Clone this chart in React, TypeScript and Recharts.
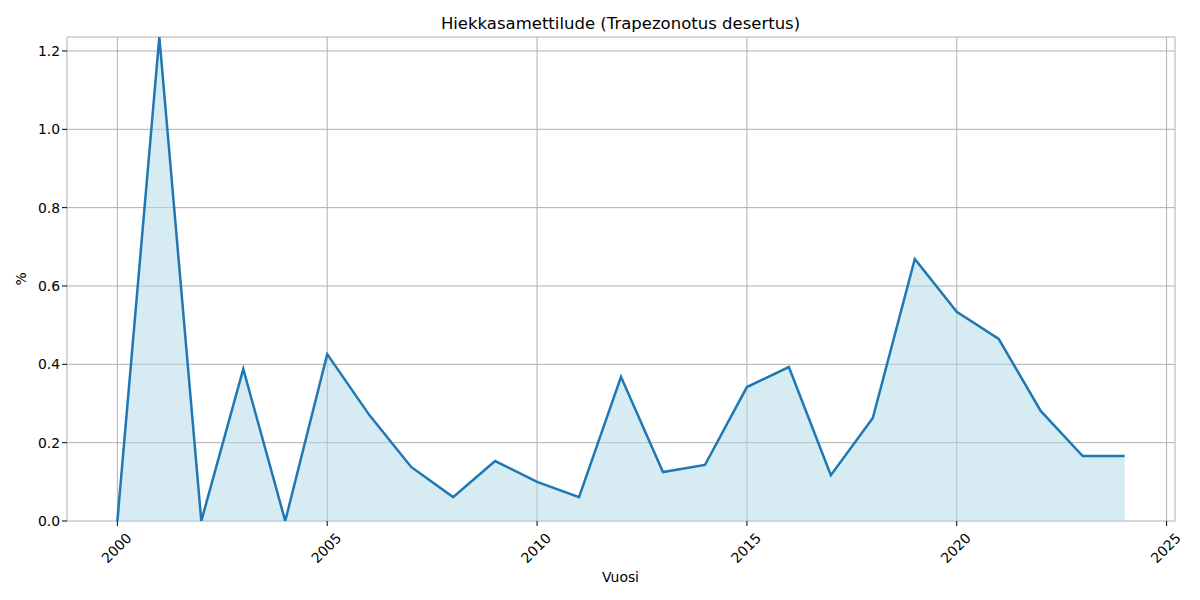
import { ComposedChart, Area, Line, XAxis, YAxis, CartesianGrid } from 'recharts';

const years = [
  2000, 2001, 2002, 2003, 2004, 2005, 2006, 2007, 2008, 2009, 2010, 2011,
  2012, 2013, 2014, 2015, 2016, 2017, 2018, 2019, 2020, 2021, 2022, 2023, 2024,
];
const shares = [
  0, 1.236, 0, 0.388, 0, 0.426, 0.271, 0.138, 0.061, 0.153, 0.1, 0.061,
  0.368, 0.125, 0.143, 0.342, 0.393, 0.117, 0.263, 0.669, 0.534, 0.465, 0.281, 0.166, 0.166,
];
const xTicks = [2000, 2005, 2010, 2015, 2020, 2025];
const yTicks = [0, 0.2, 0.4, 0.6, 0.8, 1.0, 1.2];

const title = 'Hiekkasamettilude (Trapezonotus desertus)';
const xLabel = 'Vuosi';
const yLabel = '%';

const data = years.map((year, i) => ({ year, value: shares[i] }));

const FONT = '"DejaVu Sans", sans-serif';

function RotatedTick({ x, y, payload }: any) {
  return (
    <g transform={`translate(${x - 1},${y + 20}) rotate(-45)`}>
      <text
        x={0}
        y={0}
        textAnchor="middle"
        dominantBaseline="central"
        fontSize={13.9}
        fontFamily={FONT}
        fill="#000"
      >
        {payload.value}
      </text>
    </g>
  );
}

export default function App() {
  return (
    <div style={{ position: 'absolute', left: 0, top: 0, width: 1200, height: 600, background: '#fff' }}>
      <ComposedChart
        width={1200}
        height={600}
        data={data}
        margin={{ top: 37, right: 25, bottom: 19, left: 17 }}
      >
        <XAxis
          dataKey="year"
          type="number"
          domain={[1998.8, 2025.2]}
          ticks={xTicks}
          allowDataOverflow
          axisLine={false}
          tickLine={{ stroke: '#000' }}
          tickSize={5}
          height={60}
          tick={<RotatedTick />}
          interval={0}
        />
        <YAxis
          type="number"
          domain={[0, 1.2357]}
          ticks={yTicks}
          allowDataOverflow
          axisLine={false}
          tickLine={{ stroke: '#000' }}
          tickSize={5}
          width={50}
          interval={0}
          tickFormatter={(v: number) => v.toFixed(1)}
          tick={{ fontSize: 13.9, fontFamily: FONT, fill: '#000' }}
        />
        <Area
          dataKey="value"
          type="linear"
          stroke="none"
          fill="#add8e6"
          fillOpacity={0.5}
          isAnimationActive={false}
          dot={false}
          activeDot={false}
        />
        <CartesianGrid stroke="#b0b0b0" strokeWidth={1} />
        <Line
          dataKey="value"
          type="linear"
          stroke="#1f77b4"
          strokeWidth={2.5}
          dot={false}
          activeDot={false}
          isAnimationActive={false}
        />
        <text x={620.5} y={29} textAnchor="middle" fontSize={16.5} fontFamily={FONT} fill="#000">
          {title}
        </text>
        <text x={620.5} y={582} textAnchor="middle" fontSize={13.9} fontFamily={FONT} fill="#000">
          {xLabel}
        </text>
        <text
          x={26}
          y={279}
          textAnchor="middle"
          fontSize={13.9}
          fontFamily={FONT}
          fill="#000"
          transform="rotate(-90 26 279)"
        >
          {yLabel}
        </text>
      </ComposedChart>
    </div>
  );
}
